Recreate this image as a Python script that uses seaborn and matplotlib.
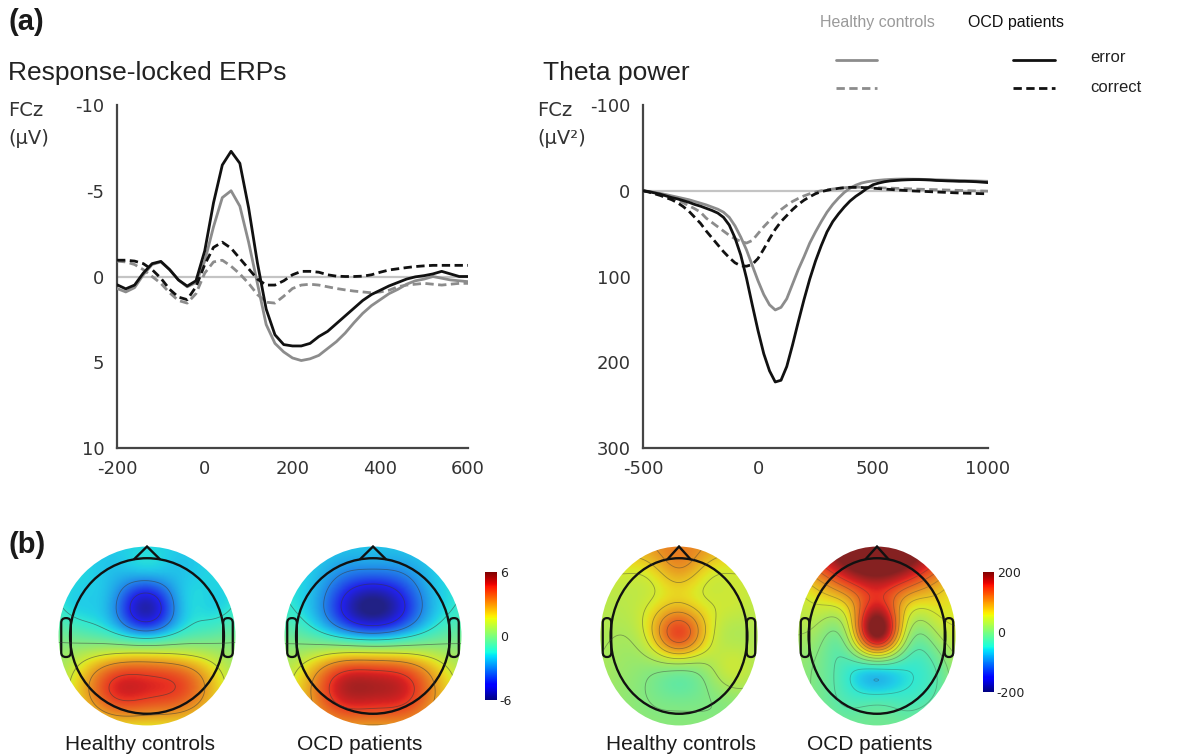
import numpy as np
import pandas as pd
import matplotlib
matplotlib.use("Agg")
import matplotlib.pyplot as plt
import seaborn as sns
from matplotlib.lines import Line2D
from matplotlib.patches import Circle, Polygon, FancyBboxPatch
from matplotlib.colors import LinearSegmentedColormap, Normalize
from matplotlib.cm import ScalarMappable

# ---------------------------------------------------------------- data
groups = ["Healthy controls", "OCD patients"]
conditions = ["error", "correct"]

# response-locked ERPs at FCz (µV), every 20 ms
erp_time = list(range(-200, 601, 20))
erp_hc_error = [0.7, 0.9, 0.65, -0.1, -0.7, -0.85, -0.4, 0.2, 0.6, 0.35, -0.9,
                -2.9, -4.6, -5.0, -4.1, -2.0, 0.4, 2.8, 3.9, 4.4, 4.75, 4.9, 4.8,
                4.6, 4.2, 3.8, 3.3, 2.7, 2.15, 1.7, 1.35, 1.0, 0.75, 0.45, 0.25,
                0.15, 0.0, 0.1, 0.2, 0.25, 0.3]
erp_hc_correct = [-0.9, -0.85, -0.7, -0.4, 0.0, 0.4, 0.95, 1.4, 1.55, 1.0, -0.2,
                  -0.85, -0.95, -0.6, -0.15, 0.4, 1.05, 1.5, 1.55, 1.15, 0.7, 0.5,
                  0.45, 0.5, 0.6, 0.7, 0.78, 0.85, 0.9, 0.95, 0.9, 0.8, 0.6, 0.5,
                  0.45, 0.4, 0.45, 0.5, 0.45, 0.4, 0.4]
erp_ocd_error = [0.48, 0.72, 0.5, -0.2, -0.75, -0.88, -0.4, 0.2, 0.56, 0.25, -1.5,
                 -4.3, -6.5, -7.3, -6.6, -4.0, -0.8, 1.9, 3.4, 3.97, 4.05, 4.05,
                 3.9, 3.5, 3.2, 2.75, 2.3, 1.85, 1.4, 1.05, 0.8, 0.55, 0.35, 0.15,
                 0.02, -0.05, -0.15, -0.3, -0.15, 0.0, 0.0]
erp_ocd_correct = [-0.95, -0.95, -0.9, -0.75, -0.4, 0.1, 0.75, 1.2, 1.35, 0.6,
                   -0.7, -1.7, -2.0, -1.65, -1.05, -0.45, 0.15, 0.5, 0.5, 0.25,
                   -0.1, -0.3, -0.3, -0.25, -0.1, -0.02, 0.0, 0.0, -0.02, -0.1,
                   -0.25, -0.38, -0.45, -0.52, -0.58, -0.62, -0.65, -0.65, -0.65,
                   -0.65, -0.65]

# theta power at FCz (µV²), every 25 ms
theta_time = list(range(-500, 1001, 25))
theta_hc_error = [0, 0.8, 2, 3.2, 4.5, 6, 7.5, 9, 10.5, 12.5,
                  14.5, 16.5, 19, 21.5, 25, 31, 41, 54, 69, 87,
                  105, 121, 133, 139, 136, 126, 109, 92, 77, 61,
                  48, 36, 25, 16, 8.5, 2, -3, -6.5, -9, -10.5,
                  -11.5, -12.2, -12.8, -13.2, -13.5, -13.6, -13.6, -13.5, -13.4, -13.2,
                  -13, -12.8, -12.6, -12.4, -12.2, -12, -11.8, -11.6, -11.4, -11.2, -11]
theta_hc_correct = [0, 1.2, 2.8, 4.5, 6.5, 8.5, 11, 14, 17.5, 21,
                    25, 32, 37, 42, 47, 52, 56, 59, 61, 58,
                    50, 42, 35, 28, 22, 17, 12.5, 9, 6, 3.5,
                    1.5, 0, -1, -2, -2.8, -3.5, -4, -4.2, -4.2, -4,
                    -3.8, -3.5, -3.2, -3, -2.8, -2.5, -2.3, -2, -1.8, -1.6,
                    -1.4, -1.2, -1, -0.8, -0.6, -0.4, -0.2, 0, 0.2, 0.3, 0.5]
theta_ocd_error = [0, 1, 2.5, 4, 6, 8, 9.5, 11.5, 13.5, 16,
                   18, 20.5, 23, 26, 31, 40, 55, 75, 102, 133,
                   163, 190, 210, 223, 221, 205, 180, 153, 127, 103,
                   82, 64, 48, 36, 27, 19, 12, 6.5, 2, -3,
                   -7, -9, -10.5, -11.5, -12, -12.5, -12.8, -13, -13, -12.8,
                   -12.5, -12, -11.8, -11.5, -11.3, -11, -11, -10.8, -10.5, -10, -9.5]
theta_ocd_correct = [0, 1.5, 3.5, 5.5, 8, 10.5, 14, 18.5, 24, 31,
                     38, 47, 55, 63, 71, 78, 84, 87.5, 88, 86,
                     79, 68, 56, 45, 36, 29, 22, 16, 11, 7,
                     3.5, 1, -0.5, -1.8, -2.8, -3.5, -4, -4, -3.8, -3.5,
                     -3, -2.5, -2, -1.5, -1, -0.6, -0.2, 0.2, 0.5, 0.8,
                     1.1, 1.4, 1.7, 2, 2.3, 2.6, 2.8, 3, 3.2, 3.4, 3.5]

erp_xticks = [-200, 0, 200, 400, 600]
erp_yticks = [-10, -5, 0, 5, 10]
theta_xticks = [-500, 0, 500, 1000]
theta_yticks = [-100, 0, 100, 200, 300]

# scalp maps: values on a 7 x 7 grid (rows front -> back, columns left -> right)
topo_erp_hc = [
    [-1.6, -1.7, -1.8, -1.8, -1.8, -1.7, -1.6],
    [-1.5, -1.8, -2.2, -2.3, -2.1, -1.8, -1.5],
    [-1.3, -1.9, -3.0, -5.4, -2.6, -1.8, -1.3],
    [-0.2, -0.6, -1.2, -2.0, -1.1, -0.6, -0.2],
    [0.5, 2.0, 3.5, 3.7, 3.3, 2.0, 0.5],
    [0.9, 2.6, 4.5, 4.5, 4.1, 2.6, 0.9],
    [0.8, 1.2, 1.6, 1.6, 1.6, 1.2, 0.8],
]
topo_erp_ocd = [
    [-1.6, -1.7, -1.9, -2.0, -1.9, -1.7, -1.6],
    [-1.5, -2.0, -3.0, -3.4, -3.0, -2.0, -1.5],
    [-1.3, -2.2, -4.6, -6.2, -4.6, -2.2, -1.3],
    [-0.3, -0.8, -1.8, -2.4, -1.8, -0.8, -0.3],
    [0.7, 2.2, 3.9, 4.1, 3.7, 2.2, 0.7],
    [1.2, 3.0, 5.0, 5.2, 4.8, 3.0, 1.2],
    [1.2, 2.0, 2.6, 2.6, 2.6, 2.0, 1.2],
]
topo_theta_hc = [
    [70, 85, 100, 110, 100, 85, 70],
    [45, 50, 60, 90, 60, 50, 45],
    [35, 35, 55, 80, 55, 45, 35],
    [30, 25, 70, 140, 70, 30, 30],
    [25, 15, 10, 12, 20, 45, 25],
    [20, 10, -2, -10, -2, 12, 20],
    [20, 15, 8, 5, 8, 15, 20],
]
topo_theta_ocd = [
    [150, 190, 220, 230, 220, 190, 150],
    [80, 125, 180, 205, 180, 130, 85],
    [40, 50, 85, 165, 85, 60, 55],
    [25, 5, 40, 200, 45, 10, 45],
    [15, -10, -40, -40, -45, -30, 25],
    [15, -10, -35, -40, -40, -25, 15],
    [18, 8, -5, -10, -5, 8, 18],
]

# ---------------------------------------------------------------- style
sns.set_style("white")
plt.rcParams["font.family"] = ["DejaVu Sans"]
plt.rcParams["axes.unicode_minus"] = False
SANS = ["Liberation Sans", "DejaVu Sans"]

W, H = 1181, 756
fig = plt.figure(figsize=(W / 100, H / 100), dpi=100)
fig.patch.set_facecolor("white")


def box(x0, y0, x1, y1):
    return [x0 / W, 1 - y1 / H, (x1 - x0) / W, (y1 - y0) / H]


def ftext(x, y, s, **kw):
    fig.text(x / W, 1 - y / H, s, **kw)


palette = {"Healthy controls": "#8c8c8c", "OCD patients": "#111111"}
dashes = {"error": "", "correct": (3, 1.6)}


def long_frame(time, series):
    rows = []
    for (group, cond), vals in series.items():
        for t, v in zip(time, vals):
            rows.append((t, v, group, cond))
    return pd.DataFrame(rows, columns=["time", "value", "group", "cond"])


def wave_panel(rect, df, xlim, ylim, xticks, yticks):
    ax = fig.add_axes(box(*rect))
    ax.axhline(0, color="#c4c4c4", lw=1.6, zorder=1)
    sns.lineplot(data=df, x="time", y="value", hue="group", style="cond",
                 hue_order=groups, style_order=conditions, palette=palette,
                 dashes=dashes, estimator=None, linewidth=2.0, legend=False,
                 ax=ax, zorder=3)
    ax.set_xlim(*xlim)
    ax.set_ylim(*ylim)
    ax.set_xticks(xticks)
    ax.set_yticks(yticks)
    ax.set_xlabel("")
    ax.set_ylabel("")
    sns.despine(ax=ax)
    for side in ("left", "bottom"):
        ax.spines[side].set_color("#454545")
        ax.spines[side].set_linewidth(1.6)
    ax.tick_params(direction="out", length=6, width=1.6, color="#454545",
                   labelsize=13, labelcolor="#333333", pad=3)
    ax.set_facecolor("none")
    return ax


erp_df = long_frame(erp_time, {
    ("Healthy controls", "error"): erp_hc_error,
    ("Healthy controls", "correct"): erp_hc_correct,
    ("OCD patients", "error"): erp_ocd_error,
    ("OCD patients", "correct"): erp_ocd_correct,
})
theta_df = long_frame(theta_time, {
    ("Healthy controls", "error"): theta_hc_error,
    ("Healthy controls", "correct"): theta_hc_correct,
    ("OCD patients", "error"): theta_ocd_error,
    ("OCD patients", "correct"): theta_ocd_correct,
})

wave_panel((117, 105, 468, 448), erp_df, (-200, 600), (10, -10), erp_xticks, erp_yticks)
wave_panel((643, 105, 988, 448), theta_df, (-500, 1000), (300, -100), theta_xticks, theta_yticks)

# ---------------------------------------------------------------- headings
ftext(8, 22, "(a)", family=SANS, fontsize=21, fontweight="bold", va="center", color="#1a1a1a")
ftext(8, 545, "(b)", family=SANS, fontsize=21, fontweight="bold", va="center", color="#1a1a1a")
ftext(8, 73, "Response-locked ERPs", family=SANS, fontsize=19, va="center", color="#222222")
ftext(543, 73, "Theta power", family=SANS, fontsize=19, va="center", color="#222222")
ftext(8, 110, "FCz", fontsize=14, va="center", color="#333333")
ftext(8, 138, "(\u03bcV)", fontsize=14, va="center", color="#333333")
ftext(537, 110, "FCz", fontsize=14, va="center", color="#333333")
ftext(537, 138, "(\u03bcV\u00b2)", fontsize=14, va="center", color="#333333")

# legend key
ftext(820, 22, "Healthy controls", family=SANS, fontsize=11.5, va="center", color="#9a9a9a")
ftext(968, 22, "OCD patients", family=SANS, fontsize=11.5, va="center", color="#111111")
for (x0, x1), group in (((836, 877), "Healthy controls"), ((1013, 1055), "OCD patients")):
    for y, cond in ((60, "error"), (88, "correct")):
        ln = Line2D([x0 / W, x1 / W], [1 - y / H, 1 - y / H], transform=fig.transFigure,
                    color=palette[group], lw=2.0,
                    linestyle="-" if cond == "error" else (0, (3, 1.6)))
        fig.add_artist(ln)
ftext(1090, 58, "error", family=SANS, fontsize=12, va="center", color="#222222")
ftext(1090, 87, "correct", family=SANS, fontsize=12, va="center", color="#222222")

# ---------------------------------------------------------------- scalp maps
jet = plt.get_cmap("jet")
cols = jet(np.linspace(0, 1, 256))
cols[:, :3] = cols[:, :3] * 0.78 + 0.22 * 0.6
topo_cmap = LinearSegmentedColormap.from_list("soft_jet", cols)


def smooth_field(grid, fine, width=0.33):
    """Gaussian radial-basis interpolation of the grid values onto a fine mesh."""
    Z = np.array(grid, dtype=float)
    gx = np.linspace(-1.2, 1.2, Z.shape[1])
    gy = np.linspace(1.2, -1.2, Z.shape[0])
    GX, GY = np.meshgrid(gx, gy)
    pts = np.column_stack([GX.ravel(), GY.ravel()])
    z = Z.ravel()
    base = z.mean()
    d2 = ((pts[:, None, :] - pts[None, :, :]) ** 2).sum(-1)
    K = np.exp(-d2 / (2 * width ** 2))
    w = np.linalg.solve(K + 1e-9 * np.eye(len(z)), z - base)
    FX, FY = np.meshgrid(fine, fine)
    q = np.column_stack([FX.ravel(), FY.ravel()])
    dq = ((q[:, None, :] - pts[None, :, :]) ** 2).sum(-1)
    FZ = np.exp(-dq / (2 * width ** 2)) @ w + base
    return FX, FY, FZ.reshape(FX.shape)


def topomap(rect, grid, vmax, levels, line_alpha):
    ax = fig.add_axes(box(*rect))
    ax.axis("off")
    fine = np.linspace(-1.2, 1.2, 241)
    FX, FY, FZ = smooth_field(grid, fine)
    disc = Circle((0, 0), 1.15, transform=ax.transData)
    im = ax.imshow(FZ, extent=(-1.2, 1.2, -1.2, 1.2), origin="lower", cmap=topo_cmap,
                   vmin=-vmax, vmax=vmax, interpolation="bilinear", aspect="auto")
    im.set_clip_path(disc)
    cs = ax.contour(FX, FY, FZ, levels=levels, colors="#3a3a3a", linewidths=0.6,
                    alpha=line_alpha, negative_linestyles="solid")
    cs.set_clip_path(disc)
    ax.add_patch(Circle((0, 0), 1.0, fill=False, lw=1.7, ec="#111111"))
    ax.add_patch(Polygon([[-0.17, 0.985], [0.0, 1.15], [0.17, 0.985]], closed=False,
                         fill=False, lw=1.7, ec="#111111"))
    for sx in (-1, 1):
        x0 = -1.115 if sx < 0 else 0.99
        ax.add_patch(FancyBboxPatch((x0, -0.27), 0.125, 0.5,
                                    boxstyle="round,pad=0,rounding_size=0.06",
                                    fill=False, lw=1.6, ec="#111111"))
    ax.set_xlim(-1.17, 1.17)
    ax.set_ylim(-1.17, 1.17)
    return ax


erp_levels = [-4.5, -3, -1.5, 0, 1.5, 3, 4.5]
theta_levels = list(np.arange(-175, 151, 25))
topomap((57, 545, 237, 727), topo_erp_hc, 6, erp_levels, 0.55)
topomap((283, 545, 463, 727), topo_erp_ocd, 6, erp_levels, 0.55)
topomap((599, 545, 759, 727), topo_theta_hc, 200, theta_levels, 0.45)
topomap((797, 545, 957, 727), topo_theta_ocd, 200, theta_levels, 0.35)


def colorbar(rect, vmax, labels):
    cax = fig.add_axes(box(*rect))
    cb = fig.colorbar(ScalarMappable(norm=Normalize(-vmax, vmax), cmap=plt.get_cmap("jet")),
                      cax=cax, ticks=[-vmax, 0, vmax])
    cb.outline.set_visible(False)
    cb.set_ticklabels(labels)
    cax.tick_params(length=0, labelsize=9, pad=2, labelcolor="#222222")


colorbar((485, 572, 497, 700), 6, ["-6", "0", "6"])
colorbar((983, 572, 994, 692), 200, ["-200", "0", "200"])

for x, s in ((140, "Healthy controls"), (360, "OCD patients"),
             (681, "Healthy controls"), (870, "OCD patients")):
    ftext(x, 745, s, family=SANS, fontsize=15, ha="center", va="center", color="#1a1a1a")

fig.savefig("out.png", dpi=100)
